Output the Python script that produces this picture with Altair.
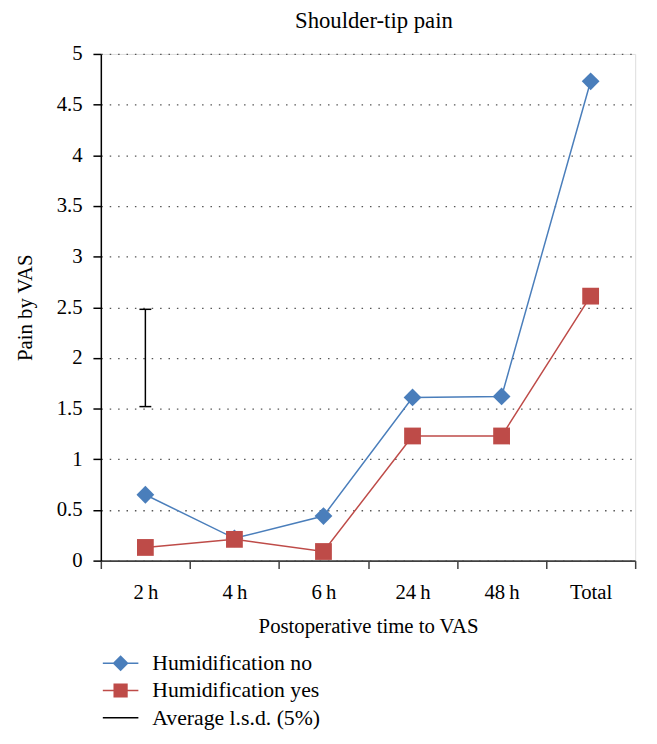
import json
import altair as alt
import pandas as pd

# ---- data ----
categories = ["2\u2009h", "4\u2009h", "6\u2009h", "24\u2009h", "48\u2009h", "Total"]
humid_no = [0.65, 0.22, 0.44, 1.61, 1.62, 4.73]
humid_yes = [0.13, 0.21, 0.09, 1.23, 1.23, 2.61]
lsd_category = "2\u2009h"
lsd_low = 1.52
lsd_high = 2.48
series_names = ["Humidification no", "Humidification yes", "Average l.s.d. (5%)"]
series_colors = ["#4a7ebb", "#be4b48", "#000000"]
y_ticks = [0, 0.5, 1, 1.5, 2, 2.5, 3, 3.5, 4, 4.5, 5]

FONT = "Liberation Serif"
W, H = 541, 513

rows = []
for i, c in enumerate(categories):
    rows.append({"pos": i + 0.5, "cat": c, "value": humid_no[i], "series": series_names[0]})
    rows.append({"pos": i + 0.5, "cat": c, "value": humid_yes[i], "series": series_names[1]})
df = pd.DataFrame(rows)

lsd_df = pd.DataFrame([{
    "pos": categories.index(lsd_category) + 0.5,
    "low": lsd_low, "high": lsd_high, "series": series_names[2],
}])

label_expr = "[" + ",".join(json.dumps(c) for c in categories) + ",''][round(datum.value)]"

x_axis = alt.Axis(
    values=list(range(len(categories) + 1)), labelExpr=label_expr,
    labelOffset=W / len(categories) / 2, title="Postoperative time to VAS",
    grid=False, tickSize=8, labelFlush=False, labelOverlap=False, labelBound=False,
    domainColor="#404040", tickColor="#404040", domainWidth=2, tickWidth=1.5,
    labelPadding=13, titlePadding=14,
)
x_scale = alt.Scale(domain=[0, len(categories)], nice=False, zero=False)

y_axis = alt.Axis(
    values=y_ticks, format=".1~f", title="Pain by VAS", grid=True,
    gridDash=[1.5, 7], gridColor="#555555", gridWidth=1.3,
    tickSize=8, domainColor="black", tickColor="black", domainWidth=1.5, tickWidth=1.5,
    labelPadding=11, titlePadding=21,
)
y_scale = alt.Scale(domain=[0, 5], nice=False)

# legend symbols: filled paths (line stub + marker), unit = 9 px
stub = "M-2,-0.085H2V0.085H-2Z"
legend_paths = [
    stub + "M0,-0.9L0.9,0L0,0.9L-0.9,0Z",
    stub + "M-0.8,-0.8H0.8V0.8H-0.8Z",
    stub,
]

legend = alt.Legend(
    title=None, orient="none", legendX=9, legendY=606,
    symbolSize=324, labelOffset=21, rowPadding=5.5, labelLimit=400,
    symbolOpacity=1, symbolStrokeWidth=0,
)
color = alt.Color("series:N", scale=alt.Scale(domain=series_names, range=series_colors), legend=legend)
shape = alt.Shape("series:N", scale=alt.Scale(domain=series_names, range=legend_paths), legend=legend)

X = alt.X("pos:Q", scale=x_scale, axis=x_axis)

base = alt.Chart(df)
lines = base.mark_line(strokeWidth=1.5).encode(
    x=X, y=alt.Y("value:Q", scale=y_scale, axis=y_axis), color=color,
)
legend_carrier = base.mark_point(filled=True, opacity=0, size=1).encode(
    x=X, y=alt.Y("value:Q", scale=y_scale, axis=y_axis), color=color, shape=shape,
)
pts_no = base.transform_filter(alt.datum.series == series_names[0]).mark_point(
    filled=True, opacity=1, shape="diamond", size=324, color=series_colors[0]
).encode(x=X, y=alt.Y("value:Q", scale=y_scale, axis=y_axis))
pts_yes = base.transform_filter(alt.datum.series == series_names[1]).mark_point(
    filled=True, opacity=1, shape="square", size=289, color=series_colors[1]
).encode(x=X, y=alt.Y("value:Q", scale=y_scale, axis=y_axis))

lsd_rule = alt.Chart(lsd_df).mark_rule(strokeWidth=1.5).encode(
    x=X, y=alt.Y("low:Q", scale=y_scale, axis=y_axis), y2="high:Q", color=color,
)
lsd_caps = alt.Chart(lsd_df).transform_fold(["low", "high"], as_=["end", "val"]).mark_tick(
    orient="horizontal", size=12, thickness=1.5, color="black", opacity=1
).encode(x=X, y=alt.Y("val:Q", scale=y_scale, axis=y_axis))

chart = alt.layer(lsd_rule, lsd_caps, lines, legend_carrier, pts_no, pts_yes).properties(
    width=W, height=H,
    title=alt.Title("Shoulder-tip pain", baseline="bottom", offset=8, dy=21, dx=6),
    padding={"left": 94, "top": 42, "right": 14, "bottom": 170},
    autosize=alt.AutoSizeParams(type="none"),
).configure_view(stroke=None).configure(
    background="white"
).configure_axis(
    labelFont=FONT, titleFont=FONT, labelFontSize=21, titleFontSize=21,
    titleFontWeight="normal", labelColor="black", titleColor="black",
).configure_legend(
    labelFont=FONT, labelFontSize=22, labelColor="black",
).configure_title(
    font=FONT, fontSize=23, fontWeight="normal", color="black", anchor="middle", frame="group",
)

chart.save("out.html", embed_options={"renderer": "svg", "actions": False})
